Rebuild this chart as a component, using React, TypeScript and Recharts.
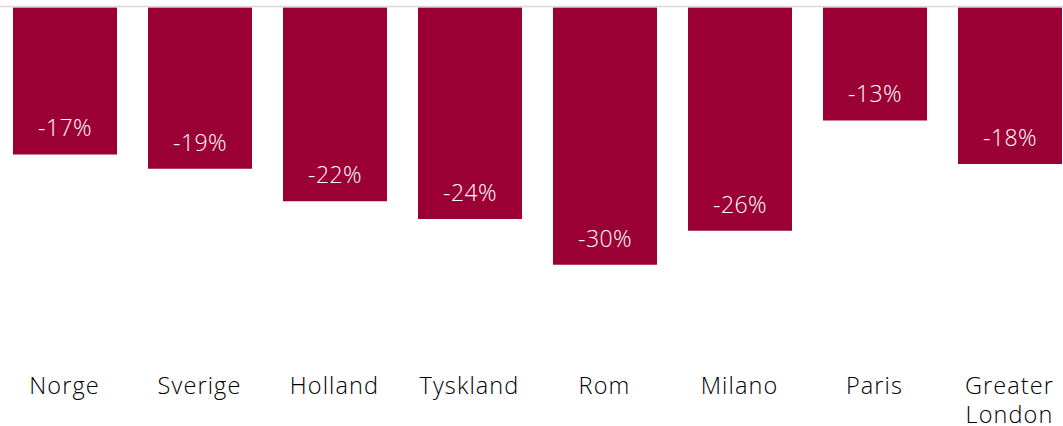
import React from "react";
import { BarChart, Bar, XAxis, YAxis, ReferenceLine, LabelList } from "recharts";

const categories = ["Norge", "Sverige", "Holland", "Tyskland", "Rom", "Milano", "Paris", "Greater London"];
const changes = [-16.9, -18.55, -22.3, -24.35, -29.6, -25.7, -13.0, -18.0];

const data = categories.map((name, i) => ({ name, value: changes[i] }));

const FONT = "'Open Sans', 'Noto Sans', sans-serif";

const ValueLabel = (props: any) => {
  const { x, y, width, height, value } = props;
  const bottom = Math.max(y, y + height);
  return (
    <text
      x={x + width / 2}
      y={bottom - 18}
      textAnchor="middle"
      fill="#ffffff"
      fontFamily={FONT}
      fontSize={23}
      fontWeight={300}
      letterSpacing={0.4}
    >
      {`${Math.round(value)}%`}
    </text>
  );
};

const CategoryTick = (props: any) => {
  const { x, y, payload } = props;
  const words = String(payload.value).split(" ");
  return (
    <text
      x={x}
      y={y + 39}
      textAnchor="middle"
      fill="#000000"
      fontFamily={FONT}
      fontSize={23.5}
      fontWeight={300}
      letterSpacing={1.1}
    >
      {words.map((w, i) => (
        <tspan key={i} x={x} dy={i === 0 ? 0 : 28.7}>
          {w}
        </tspan>
      ))}
    </text>
  );
};

export default function App() {
  return (
    <div style={{ position: "absolute", left: -3, top: 0, width: 1080, height: 426 }}>
      <BarChart
        width={1080}
        height={426}
        data={data}
        margin={{ top: 6.5, right: 0, left: 0, bottom: 0 }}
      >
        <XAxis
          dataKey="name"
          axisLine={false}
          tickLine={false}
          tickSize={0}
          tickMargin={0}
          height={70.9}
          interval={0}
          tick={<CategoryTick />}
        />
        <YAxis hide type="number" domain={[-40, 0.12]} allowDataOverflow />
        <Bar dataKey="value" fill="#9b0034" barSize={104} isAnimationActive={false}>
          <LabelList dataKey="value" content={<ValueLabel />} />
        </Bar>
        <ReferenceLine y={0.12} stroke="#d9d9d9" strokeWidth={1.6} />
      </BarChart>
    </div>
  );
}
